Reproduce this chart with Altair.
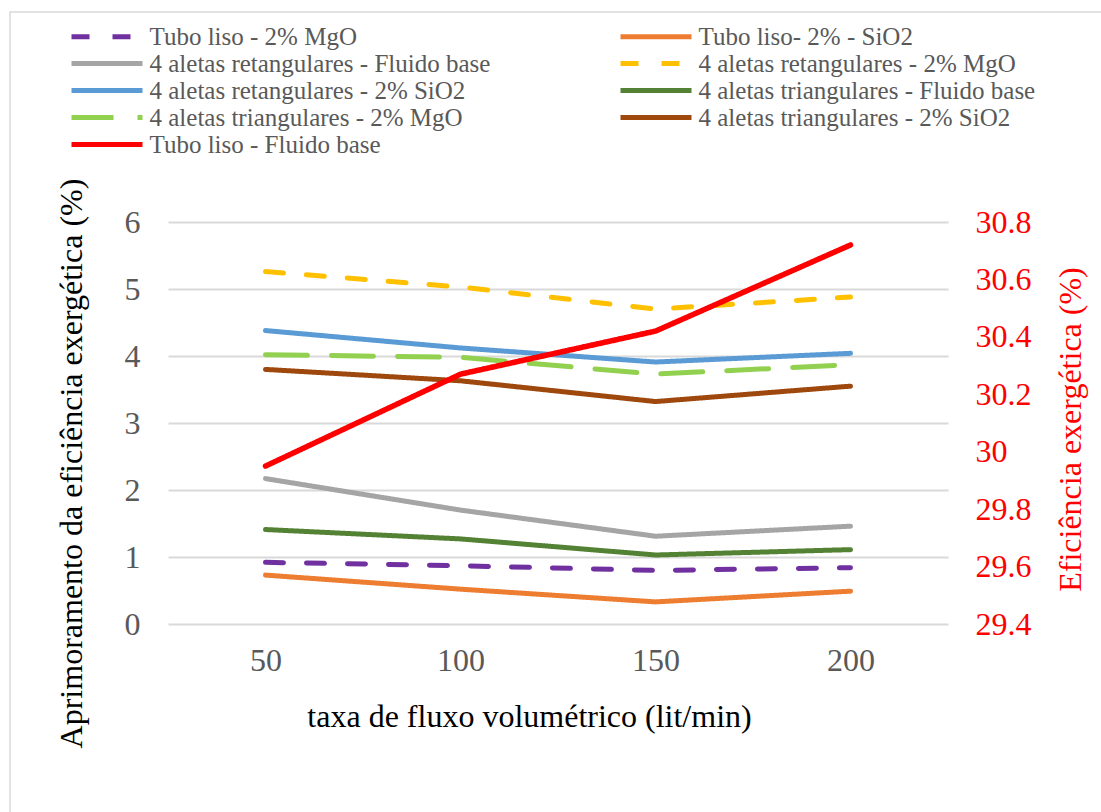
import altair as alt
import pandas as pd

# Volumetric flow rates (lit/min)
flow = [50, 100, 150, 200]

series = [
    "Tubo liso - 2% MgO",
    "Tubo liso- 2% - SiO2",
    "4 aletas retangulares - Fluido base",
    "4 aletas retangulares - 2% MgO",
    "4 aletas retangulares - 2% SiO2",
    "4 aletas triangulares - Fluido base",
    "4 aletas triangulares - 2% MgO",
    "4 aletas triangulares - 2% SiO2",
    "Tubo liso - Fluido base",
]

# Exergy efficiency improvement (%), left axis
liso_mgo = [0.92, 0.87, 0.80, 0.84]
liso_sio2 = [0.73, 0.52, 0.33, 0.49]
ret_base = [2.17, 1.70, 1.31, 1.46]
ret_mgo = [5.26, 5.03, 4.70, 4.88]
ret_sio2 = [4.38, 4.12, 3.91, 4.04]
tri_base = [1.41, 1.27, 1.03, 1.11]
tri_mgo = [4.02, 3.98, 3.73, 3.87]
tri_sio2 = [3.80, 3.63, 3.32, 3.55]
# Exergy efficiency of the plain tube with base fluid (%), right axis
liso_base_eff = [29.95, 30.27, 30.42, 30.72]

colors = ["#7030A0", "#ED7D31", "#A5A5A5", "#FFC000", "#5B9BD5",
          "#548235", "#92D050", "#9E480E", "#FF0000"]
dashes = [[18, 23], [1, 0], [1, 0], [18, 23], [1, 0],
          [1, 0], [42, 24], [1, 0], [1, 0]]

left_values = [liso_mgo, liso_sio2, ret_base, ret_mgo, ret_sio2,
               tri_base, tri_mgo, tri_sio2]

rows = []
for name, vals in zip(series[:-1], left_values):
    for f, v in zip(flow, vals):
        rows.append({"flow": f, "serie": name, "valor": v})
left_df = pd.DataFrame(rows)
right_df = pd.DataFrame({"flow": flow, "serie": series[-1], "valor": liso_base_eff})

FONT = "Liberation Serif, Times New Roman, serif"
W, H = 780, 402
PAD_L, PAD_T = 168, 222
TICK_SIZE = 32
TITLE_SIZE = 32

color_enc = alt.Color(
    "serie:N",
    title=None,
    scale=alt.Scale(domain=series, range=colors),
    legend=alt.Legend(
        orient="none",
        direction="horizontal",
        legendX=-73.5,
        legendY=-198,
        columns=2,
        columnPadding=120,
        rowPadding=1,
        symbolType="M-3.55,0H3.55",
        symbolSize=400,
        symbolStrokeWidth=5,
        labelOffset=30,
        labelFont=FONT,
        labelFontSize=25,
        labelColor="#595959",
        labelLimit=600,
    ),
)
dash_enc = alt.StrokeDash(
    "serie:N",
    title=None,
    scale=alt.Scale(domain=series, range=dashes),
)

x_enc = alt.X(
    "flow:O",
    title="taxa de fluxo volumétrico (lit/min)",
    axis=alt.Axis(
        labelAngle=0,
        labelFont=FONT,
        labelFontSize=TICK_SIZE,
        labelColor="#595959",
        labelPadding=21,
        domain=False,
        ticks=False,
        titleFont=FONT,
        titleFontSize=TITLE_SIZE,
        titleFontWeight="normal",
        titleColor="#000000",
        titlePadding=25,
        titleX=361,
    ),
)

frame = alt.Chart(pd.DataFrame({"k": [0]})).mark_rect(
    fill="transparent", stroke="#d9d9d9", strokeWidth=1.5
).encode(
    x=alt.value(10 - PAD_L),
    x2=alt.value(1101 - PAD_L + 10),
    y=alt.value(12 - PAD_T),
    y2=alt.value(812 - PAD_T + 10),
)

left = alt.Chart(left_df).mark_line(strokeWidth=5, strokeCap="round").encode(
    x=x_enc,
    y=alt.Y(
        "valor:Q",
        title="Aprimoramento da eficiência exergética (%)",
        scale=alt.Scale(domain=[0, 6], nice=False),
        axis=alt.Axis(
            values=[0, 1, 2, 3, 4, 5, 6],
            format="d",
            orient="left",
            labelFont=FONT,
            labelFontSize=TICK_SIZE,
            labelColor="#595959",
            labelPadding=28,
            domain=False,
            ticks=False,
            grid=True,
            gridColor="#d9d9d9",
            gridWidth=2,
            titleFont=FONT,
            titleFontSize=TITLE_SIZE,
            titleFontWeight="normal",
            titleColor="#000000",
            titlePadding=36,
            titleY=241,
        ),
    ),
    color=color_enc,
    strokeDash=dash_enc,
)

right = alt.Chart(right_df).mark_line(strokeWidth=5.5, strokeCap="round").encode(
    x=x_enc,
    y=alt.Y(
        "valor:Q",
        title="Eficiência exergética (%)",
        scale=alt.Scale(domain=[29.4, 30.8], nice=False, zero=False),
        axis=alt.Axis(
            values=[29.4, 29.6, 29.8, 30.0, 30.2, 30.4, 30.6, 30.8],
            format=".1~f",
            orient="right",
            labelFont=FONT,
            labelFontSize=TICK_SIZE,
            labelColor="#FF0000",
            labelPadding=27,
            domain=False,
            ticks=False,
            grid=False,
            titleFont=FONT,
            titleFontSize=TITLE_SIZE,
            titleFontWeight="normal",
            titleColor="#FF0000",
            titleAngle=270,
            titleBaseline="top",
            titlePadding=24,
            titleY=207,
        ),
    ),
    color=color_enc,
    strokeDash=dash_enc,
)

chart = (
    alt.layer(frame, left, right)
    .resolve_scale(y="independent")
    .properties(
        width=W,
        height=H,
        autosize=alt.AutoSizeParams(type="none"),
        padding={"left": PAD_L, "top": PAD_T,
                 "right": 1101 - PAD_L - W, "bottom": 812 - PAD_T - H},
        background="white",
    )
    .configure_view(stroke=None)
)

chart.save("out.html", embed_options={"renderer": "svg", "actions": False})
